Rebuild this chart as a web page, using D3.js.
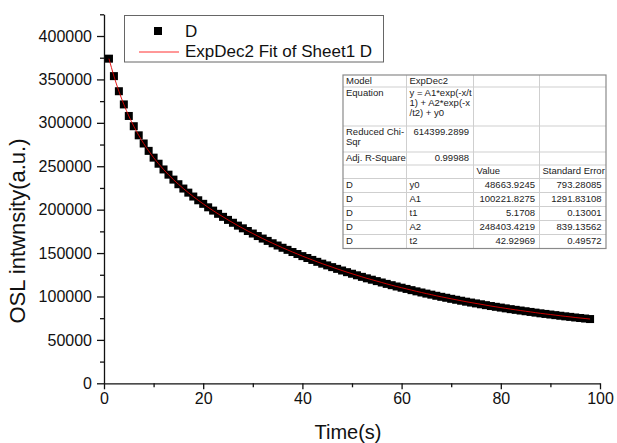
<!DOCTYPE html>
<html>
<head>
<meta charset="utf-8">
<script src="https://cdn.jsdelivr.net/npm/d3@7"></script>
<style>
    body { margin: 0; background: #fff; }
    svg { display: block; font-family: "Liberation Sans", Arial, sans-serif; }
</style>
</head>
<body>
<svg id="drawing_region"></svg>
<script>
// measured points (Time in s, OSL intensity in a.u.)
const time_s = [
    1, 2, 3, 4, 5, 6, 7, 8, 9, 10, 11, 12, 13, 14, 15, 16, 17, 18, 19, 20,
    21, 22, 23, 24, 25, 26, 27, 28, 29, 30, 31, 32, 33, 34, 35, 36, 37, 38, 39, 40,
    41, 42, 43, 44, 45, 46, 47, 48, 49, 50, 51, 52, 53, 54, 55, 56, 57, 58, 59, 60,
    61, 62, 63, 64, 65, 66, 67, 68, 69, 70, 71, 72, 73, 74, 75, 76, 77, 78, 79, 80,
    81, 82, 83, 84, 85, 86, 87, 88, 89, 90, 91, 92, 93, 94, 95, 96, 97, 98
];
const intensity = [
    373900, 353800, 336400, 321200, 307900, 296100, 285600, 276200, 267700, 259900,
    252900, 246300, 240300, 234600, 229300, 224300, 219600, 215100, 210800, 206700,
    202700, 198900, 195200, 191700, 188200, 184900, 181600, 178500, 175400, 172500,
    169600, 166700, 164000, 161300, 158700, 156100, 153700, 151200, 148900, 146500,
    144300, 142100, 139900, 137800, 135800, 133800, 131800, 129900, 128000, 126200,
    124400, 122600, 120900, 119300, 117700, 116100, 114500, 113000, 111500, 110100,
    108700, 107300, 105900, 104600, 103300, 102100, 100800, 99600, 98500, 97300,
    96200, 95100, 94000, 93000, 92000, 91000, 90000, 89000, 88100, 87200,
    86300, 85400, 84600, 83800, 83000, 82200, 81400, 80600, 79900, 79200,
    78500, 77800, 77100, 76500, 75800, 75200, 74600, 74000
];

const xTicks = [0, 20, 40, 60, 80, 100];
const xMinorTicks = [10, 30, 50, 70, 90];
const yTicks = [0, 50000, 100000, 150000, 200000, 250000, 300000, 350000, 400000];
const yMinorTicks = [25000, 75000, 125000, 175000, 225000, 275000, 325000, 375000, 425000];

const legendLabels = ["D", "ExpDec2 Fit of Sheet1 D"];

// fit report table, one entry per row, "\n" marks a wrapped line
const fitTable = [
    ["Model", "ExpDec2", "", ""],
    ["Equation", "y = A1*exp(-x/t\n1) + A2*exp(-x\n/t2) + y0", "", ""],
    ["Reduced Chi-\nSqr", "614399.2899", "", ""],
    ["Adj. R-Square", "0.99988", "", ""],
    ["", "", "Value", "Standard Error"],
    ["D", "y0", "48663.9245", "793.28085"],
    ["D", "A1", "100221.8275", "1291.83108"],
    ["D", "t1", "5.1708", "0.13001"],
    ["D", "A2", "248403.4219", "839.13562"],
    ["D", "t2", "42.92969", "0.49572"]
];

class DecayChart {

    constructor( config ) {
        this.config = config;
        this.init();
    }

    init() {
        let self = this;

        self.svg = d3.select( self.config.parent )
            .attr('width', self.config.width)
            .attr('height', self.config.height);

        self.inner_width = self.config.width - self.config.margin.left - self.config.margin.right;
        self.inner_height = self.config.height - self.config.margin.top - self.config.margin.bottom;

        self.chart = self.svg.append('g')
            .attr('transform', `translate(${self.config.margin.left}, ${self.config.margin.top})`);

        self.xscale = d3.scaleLinear()
            .domain( [0, 100] )
            .range( [0, self.inner_width] );

        self.yscale = d3.scaleLinear()
            .domain( [0, 425000] )
            .range( [self.inner_height, 0] );

        self.data = time_s.map( (t, i) => ({x: t, y: intensity[i]}) );
    }

    render() {
        let self = this;

        // minor ticks first, then the labelled axes over them
        self.chart.append('g')
            .attr('transform', `translate(0, ${self.inner_height})`)
            .call( d3.axisBottom(self.xscale).tickValues(xMinorTicks).tickSize(4).tickFormat('') )
            .call( g => g.select('.domain').remove() );

        self.chart.append('g')
            .call( d3.axisLeft(self.yscale).tickValues(yMinorTicks).tickSize(4).tickFormat('') )
            .call( g => g.select('.domain').remove() );

        const xaxis_group = self.chart.append('g')
            .attr('transform', `translate(0, ${self.inner_height})`)
            .call( d3.axisBottom(self.xscale).tickValues(xTicks).tickSize(6).tickSizeOuter(0).tickPadding(3) );

        const yaxis_group = self.chart.append('g')
            .call( d3.axisLeft(self.yscale).tickValues(yTicks).tickSize(7).tickSizeOuter(0).tickPadding(5)
                .tickFormat(d3.format('d')) );

        [xaxis_group, yaxis_group].forEach( g => {
            g.attr('font-family', null).attr('font-size', '16px');
            g.selectAll('text').attr('fill', '#111');
        });
        self.chart.selectAll('.domain, .tick line')
            .attr('stroke', '#111')
            .attr('stroke-width', 1.3);

        self.chart.selectAll('.sq')
            .data(self.data)
            .enter()
            .append('rect')
            .attr('class', 'sq')
            .attr('x', d => self.xscale(d.x) - 4)
            .attr('y', d => self.yscale(d.y) - 4)
            .attr('width', 8)
            .attr('height', 8)
            .attr('fill', '#000');

        const line = d3.line()
            .x( d => self.xscale(d.x) )
            .y( d => self.yscale(d.y) )
            .curve( d3.curveMonotoneX );

        self.chart.append('path')
            .attr('d', line(self.data))
            .attr('stroke', '#e00000')
            .attr('stroke-width', 0.9)
            .attr('fill', 'none');

        // axis titles
        self.svg.append('text')
            .attr('x', self.config.margin.left + self.inner_width / 2 - 4)
            .attr('y', 439)
            .attr('text-anchor', 'middle')
            .attr('font-size', '20px')
            .attr('fill', '#111')
            .text('Time(s)');

        self.svg.append('text')
            .attr('transform', 'translate(25, 231) rotate(-90)')
            .attr('text-anchor', 'middle')
            .attr('font-size', '22px')
            .attr('fill', '#111')
            .text('OSL intwnsity(a.u.)');

        self.renderLegend();
        self.renderTable();
    }

    renderLegend() {
        let self = this;
        const lg = self.svg.append('g');

        lg.append('rect')
            .attr('x', 124.5).attr('y', 15.5)
            .attr('width', 259).attr('height', 46.5)
            .attr('fill', '#fff')
            .attr('stroke', '#666')
            .attr('stroke-width', 1);

        lg.append('rect')
            .attr('x', 154).attr('y', 27)
            .attr('width', 8).attr('height', 8)
            .attr('fill', '#000');

        lg.append('line')
            .attr('x1', 139).attr('x2', 179)
            .attr('y1', 52).attr('y2', 52)
            .attr('stroke', '#ff3030')
            .attr('stroke-width', 1);

        lg.selectAll('text.lg')
            .data(legendLabels)
            .enter()
            .append('text')
            .attr('class', 'lg')
            .attr('x', 185)
            .attr('y', (d, i) => 36.5 + i * 20.5)
            .attr('font-size', '17px')
            .attr('fill', '#111')
            .text(d => d);
    }

    renderTable() {
        let self = this;
        const colX = [343, 406.5, 473.5, 539.5, 606];
        const rowH = [12, 39, 26, 13, 13.5, 14, 14, 14, 14, 14];
        const top = 75;
        const rowY = [top];
        rowH.forEach( h => rowY.push(rowY[rowY.length - 1] + h) );

        const tg = self.svg.append('g').attr('font-size', '9.5px').attr('fill', '#222');

        tg.append('rect')
            .attr('x', colX[0]).attr('y', top)
            .attr('width', colX[4] - colX[0])
            .attr('height', rowY[rowY.length - 1] - top)
            .attr('fill', '#fff');

        rowY.slice(1, -1).forEach( y => {
            tg.append('line')
                .attr('x1', colX[0]).attr('x2', colX[4])
                .attr('y1', y).attr('y2', y)
                .attr('stroke', '#cfcfcf');
        });
        colX.slice(1, -1).forEach( x => {
            tg.append('line')
                .attr('x1', x).attr('x2', x)
                .attr('y1', top).attr('y2', rowY[rowY.length - 1])
                .attr('stroke', '#cfcfcf');
        });
        tg.append('rect')
            .attr('x', colX[0]).attr('y', top)
            .attr('width', colX[4] - colX[0])
            .attr('height', rowY[rowY.length - 1] - top)
            .attr('fill', 'none')
            .attr('stroke', '#8a8a8a')
            .attr('stroke-width', 1.2);

        fitTable.forEach( (row, r) => {
            row.forEach( (cell, c) => {
                if (!cell) return;
                const numeric = !isNaN(+cell);
                const t = tg.append('text')
                    .attr('x', numeric ? colX[c + 1] - 4.5 : colX[c] + 3)
                    .attr('y', rowY[r] + 9.3)
                    .attr('text-anchor', numeric ? 'end' : 'start');
                cell.split('\n').forEach( (ln, k) => {
                    t.append('tspan')
                        .attr('x', numeric ? colX[c + 1] - 4.5 : colX[c] + 3)
                        .attr('dy', k === 0 ? 0 : 10)
                        .text(ln);
                });
            });
        });
    }
}

const config = {
    parent: '#drawing_region',
    width: 617,
    height: 443,
    margin: {top: 14.3, right: 17, bottom: 59.7, left: 104}
};

const decayChart = new DecayChart( config );
decayChart.render();
</script>
</body>
</html>
